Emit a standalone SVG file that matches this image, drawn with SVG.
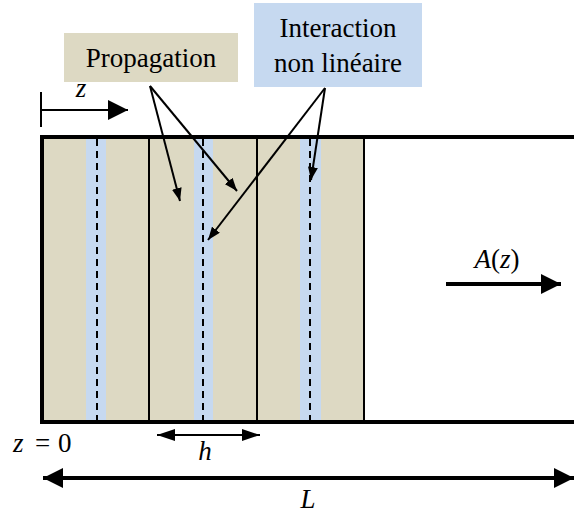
<svg xmlns="http://www.w3.org/2000/svg" width="574" height="515" viewBox="0 0 574 515">
<style>
.lbl{font-family:'Liberation Serif','DejaVu Serif','Noto Serif',serif;font-size:27px;fill:#000}
.math{font-family:'Liberation Serif','DejaVu Serif','Noto Serif',serif;font-style:italic;font-size:27px;fill:#000}
.up{font-family:'Liberation Serif','DejaVu Serif','Noto Serif',serif;font-style:normal;font-size:27px;fill:#000}
.ln{stroke:#000;stroke-width:2;fill:none}
.thick{stroke:#000;stroke-width:4;fill:none}
.dash{stroke:#000;stroke-width:2;stroke-dasharray:7,5;fill:none}
.beige{fill:#DDD9C3}
.blue{fill:#C6D9F0}
</style>
<defs>
<marker id="big" viewBox="0 0 20 20" refX="20" refY="10" markerWidth="20" markerHeight="20" orient="auto-start-reverse" markerUnits="userSpaceOnUse"><path d="M0,0L20,10L0,20z" fill="#000"/></marker>
<marker id="mid" viewBox="0 0 18 12" refX="18" refY="6" markerWidth="18" markerHeight="12" orient="auto-start-reverse" markerUnits="userSpaceOnUse"><path d="M0,0L18,6L0,12z" fill="#000"/></marker>
<marker id="sm" viewBox="0 0 13 10" refX="13" refY="5" markerWidth="13" markerHeight="10" orient="auto" markerUnits="userSpaceOnUse"><path d="M0,0L13,5L0,10z" fill="#000"/></marker>
</defs>
<g id="fiber">
<rect class="beige" x="41" y="137" width="323" height="285"/>
<rect class="blue" x="86" y="139" width="20" height="282"/>
<rect class="blue" x="194" y="139" width="19" height="282"/>
<rect class="blue" x="300" y="139" width="21" height="282"/>
<line class="dash" x1="97" y1="139" x2="97" y2="421"/>
<line class="dash" x1="203" y1="139" x2="203" y2="421"/>
<line class="dash" x1="310" y1="139" x2="310" y2="421"/>
<line class="ln" x1="149" y1="137" x2="149" y2="422"/>
<line class="ln" x1="257" y1="137" x2="257" y2="422"/>
<line class="ln" x1="364" y1="137" x2="364" y2="422"/>
<path class="thick" d="M574,137H42V422H574"/>
</g>
<g id="propagation">
<rect class="beige" x="64" y="33" width="174" height="49"/>
<text class="lbl" x="151" y="67" text-anchor="middle">Propagation</text>
</g>
<g id="interaction">
<rect class="blue" x="254" y="3" width="168" height="84"/>
<text class="lbl" x="338" y="37" text-anchor="middle">Interaction</text>
<text class="lbl" x="338" y="72" text-anchor="middle">non linéaire</text>
</g>
<g id="labels">
<text class="math" x="81" y="97" text-anchor="middle">z</text>
<text class="math" x="497" y="268" text-anchor="middle">A<tspan class="up">(</tspan>z<tspan class="up">)</tspan></text>
<text class="math" x="13" y="452">z</text>
<text class="up" x="35" y="452">=</text>
<text class="up" x="58" y="452">0</text>
<text class="math" x="205" y="460" text-anchor="middle">h</text>
<text class="math" x="308" y="508" text-anchor="middle">L</text>
</g>
<g id="connectors">
<line class="ln" x1="41" y1="92" x2="41" y2="127"/>
<line class="ln" x1="41" y1="110" x2="128" y2="110" marker-end="url(#big)"/>
<line class="ln" x1="150" y1="86" x2="180" y2="201" marker-end="url(#sm)"/>
<line class="ln" x1="150" y1="86" x2="237" y2="191" marker-end="url(#sm)"/>
<line class="ln" x1="325" y1="88" x2="311" y2="180" marker-end="url(#sm)"/>
<line class="ln" x1="325" y1="88" x2="208" y2="240" marker-end="url(#sm)"/>
<line class="thick" x1="446" y1="284" x2="561" y2="284" marker-end="url(#big)"/>
<line class="ln" x1="157" y1="435" x2="260" y2="435" stroke-width="3" marker-start="url(#mid)" marker-end="url(#mid)"/>
<line class="thick" x1="43" y1="478" x2="574" y2="478" marker-start="url(#big)" marker-end="url(#big)"/>
</g>
</svg>
